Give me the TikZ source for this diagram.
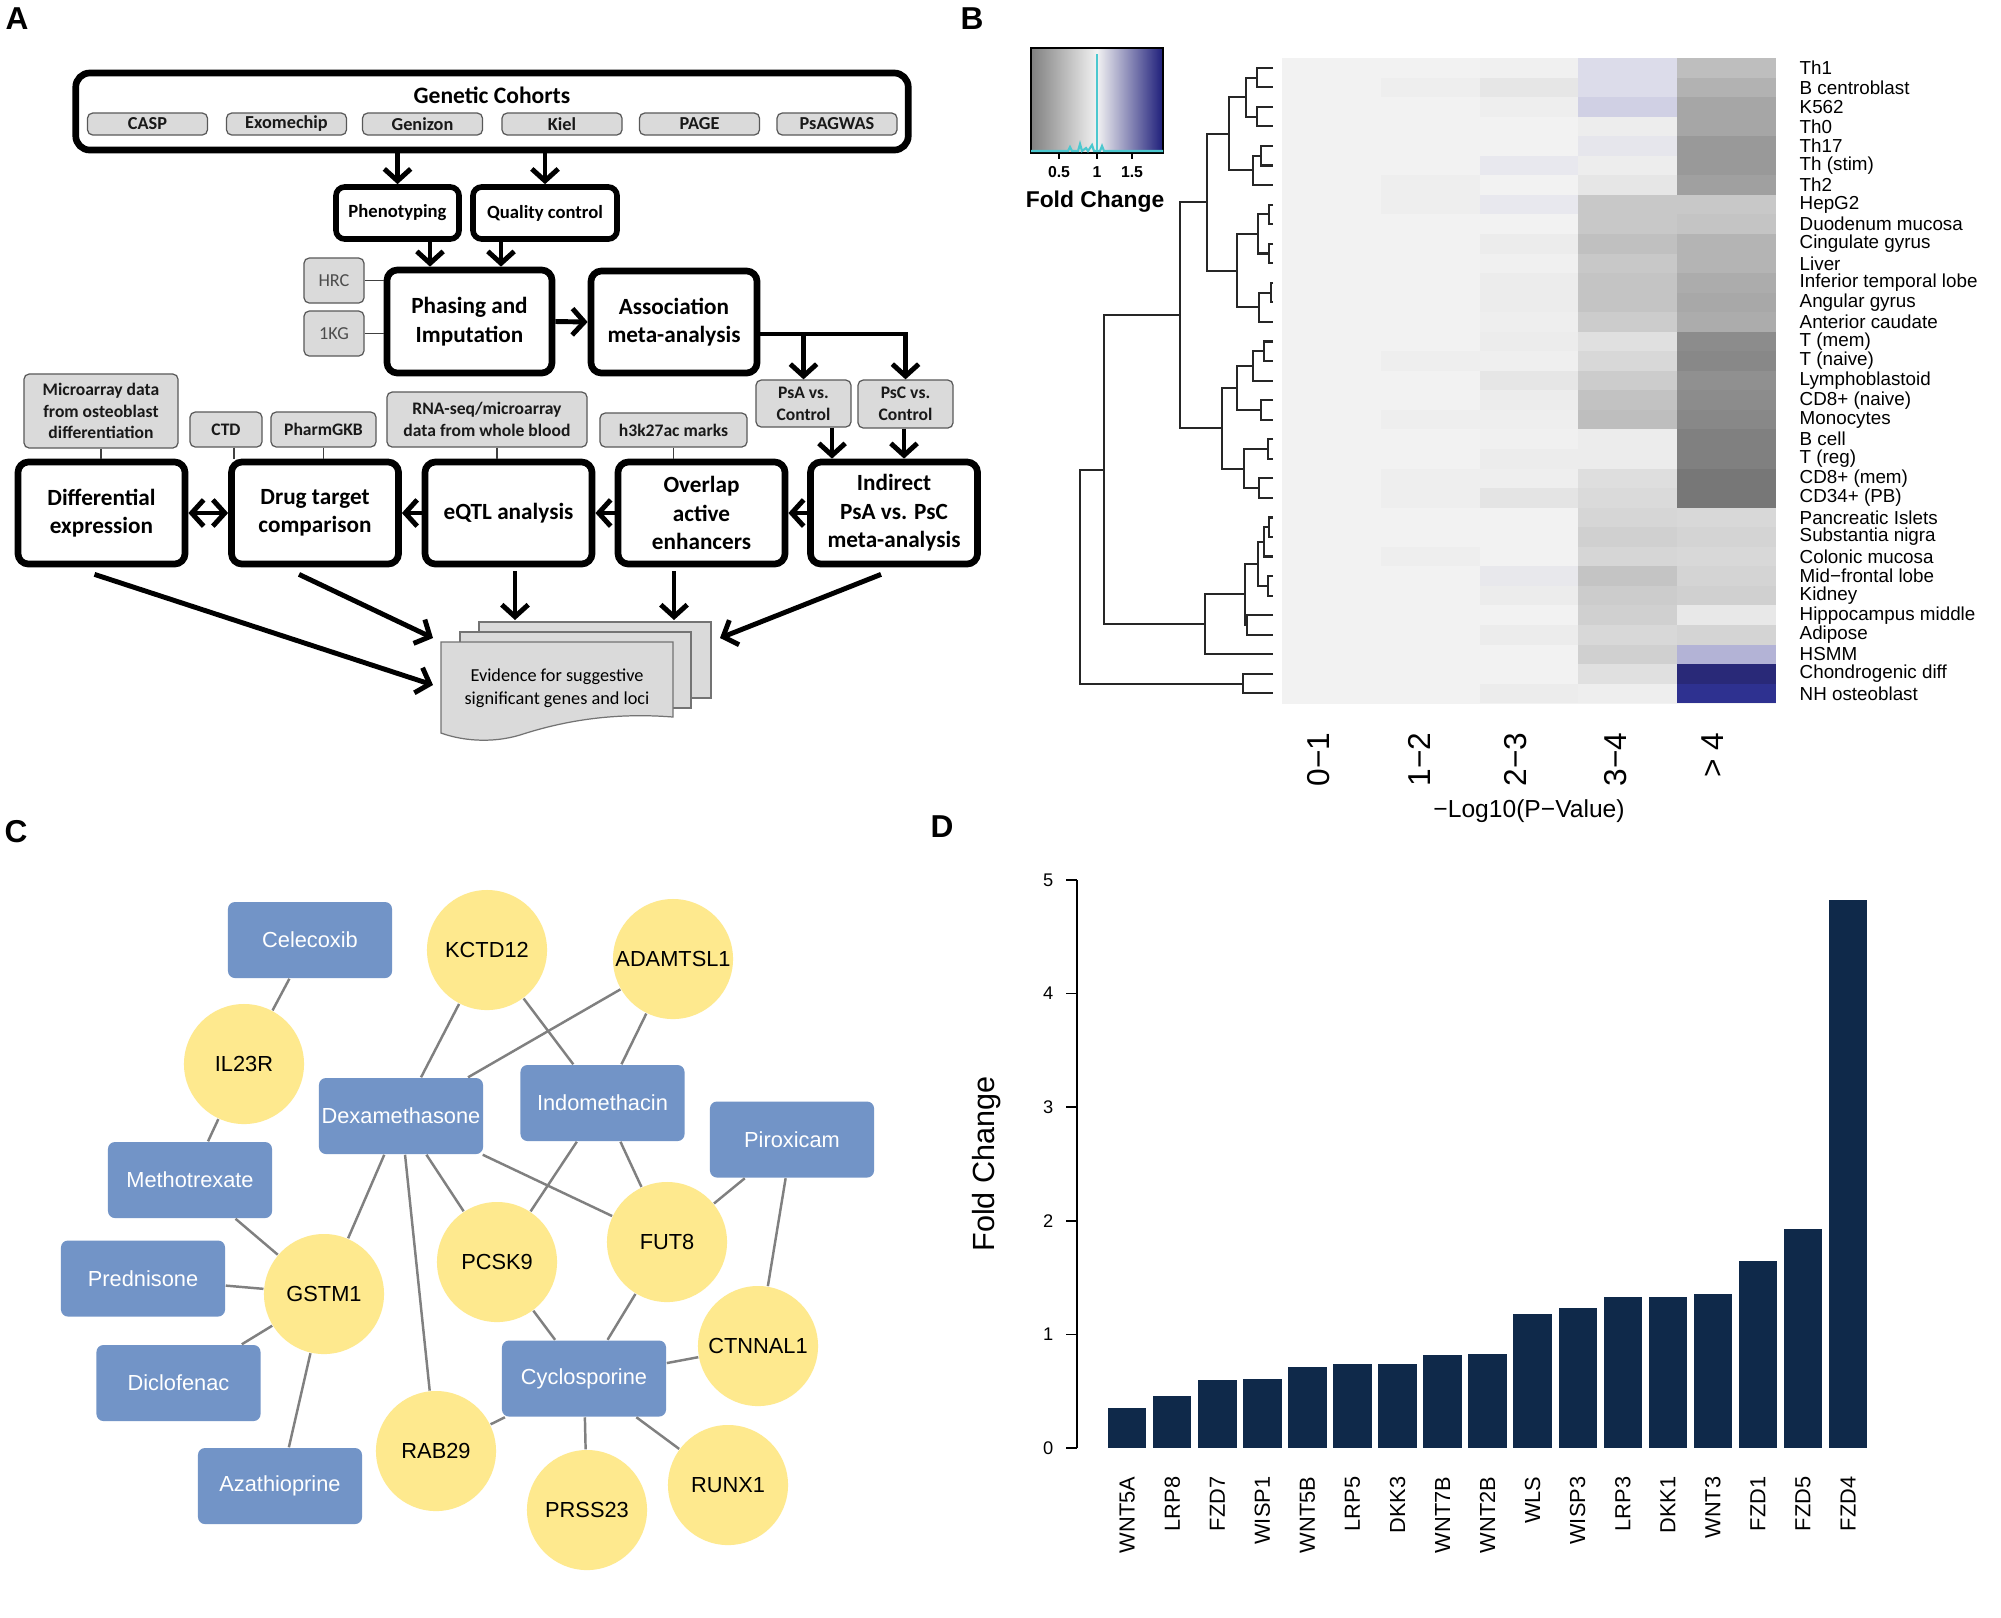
\documentclass[tikz,border=0pt]{standalone}
\usepackage{fontspec}
\setmainfont{Liberation Sans}
\newfontfamily\carlito{Carlito}
\usetikzlibrary{arrows.meta,calc}
\definecolor{drugblue}{HTML}{7294C7}
\definecolor{geneyellow}{HTML}{FEE98E}
\definecolor{edgegray}{HTML}{808080}
\definecolor{barnavy}{HTML}{0F294A}
\definecolor{boxgray}{HTML}{DADADA}
\definecolor{keycyan}{HTML}{4CC8CF}
\definecolor{keynavy}{HTML}{1E1E7A}
\definecolor{keygray}{HTML}{808080}
\definecolor{keywhite}{HTML}{F2F2F2}
\definecolor{heatbase}{HTML}{F2F2F2}
\newcommand\fsz[2]{\fontsize{#1}{#2}\selectfont}
\newcommand\dendro[5]{\draw[dend] (#2,#3) -- (#1,#3) -- (#1,#5) -- (#4,#5);}
\begin{document}
\begin{tikzpicture}[x=0.01cm,y=-0.01cm,
  panellab/.style={font=\bfseries\fsz{9}{10}, inner sep=0},
  mainbox/.style={draw, line width=1.9pt, rounded corners=3pt, align=center, inner sep=0pt,
    minimum width=1.67cm, minimum height=1.02cm, font=\carlito\bfseries\fsz{6.6}{8.1}},
  smallbox/.style={draw, line width=1.6pt, rounded corners=2.5pt, inner sep=0pt,
    minimum height=0.52cm, font=\carlito\bfseries\fsz{5.3}{6.4}},
  graybox/.style={draw=black!65, fill=boxgray, line width=0.35pt, rounded corners=1.5pt,
    inner sep=0pt, align=center, text=black!90, font=\carlito\bfseries\fsz{5}{6.2}},
  cohort/.style={graybox, minimum width=1.2cm, minimum height=0.22cm, font=\carlito\bfseries\fsz{5.2}{6}},
  arr/.style={line width=1.4pt, -{Straight Barb[length=3.4pt,width=7.5pt]}},
  dblarr/.style={line width=1.4pt, {Straight Barb[length=3.4pt,width=7.5pt]}-{Straight Barb[length=3.4pt,width=7.5pt]}},
  thinln/.style={line width=0.4pt, draw=black!75},
  docpage/.style={fill=boxgray, draw=black!55, line width=0.35pt},
  drug/.style={fill=drugblue, rounded corners=2pt, minimum width=1.64cm, minimum height=0.76cm,
    inner sep=0, text=white, font=\fsz{6.2}{7}},
  gene/.style={circle, fill=geneyellow, minimum size=1.2cm, inner sep=0, font=\fsz{6.2}{7}},
  edge/.style={draw=edgegray, line width=0.7pt},
  rowlab/.style={anchor=west, inner sep=0, font=\fsz{5.35}{6}},
  dend/.style={line width=0.6pt, draw=black!85},
]
\useasboundingbox[fill=white] (0,0) rectangle (2001,1617);

% ---------------- panel labels
\node[panellab] (labA) at (17,19) {A};
\node[panellab] (labB) at (972,19) {B};
\node[panellab] (labC) at (16,832) {C};
\node[panellab] (labD) at (942,827) {D};

% ================= PANEL A
\node[draw, line width=1.9pt, rounded corners=4pt, minimum width=8.32cm, minimum height=0.77cm] (gc) at (492,111.5) {};
\node[font=\carlito\bfseries\fsz{6.7}{8}, inner sep=0] (gctitle) at (492,95) {Genetic Cohorts};
\foreach \n/\x/\t in {casp/147.5/CASP, exo/286.5/Exomechip, gen/422.5/Genizon, kiel/562/Kiel, page/699.5/PAGE, psag/837/PsAGWAS}
  \node[cohort] (\n) at (\x,124) {\t};

\node[smallbox, minimum width=1.23cm] (pheno) at (397.5,213) {Phenotyping};
\node[smallbox, minimum width=1.44cm] (qc) at (545,213) {Quality control};
\draw[arr] (gc.south -| pheno.north) -- (pheno.north);
\draw[arr] (gc.south -| qc.north) -- (qc.north);

\node[mainbox, minimum width=1.65cm, minimum height=1.03cm] (phasing) at (469.5,321.5) {Phasing and\\Imputation};
\node[mainbox, minimum width=1.66cm] (assoc) at (674,322) {Association\\meta-analysis};
\coordinate (pa) at ($(pheno.south)+(32.5,0)$);
\coordinate (qa) at ($(qc.south)+(-44,0)$);
\draw[arr] (pa) -- (pa |- phasing.north);
\draw[arr] (qa) -- (qa |- phasing.north);

\node[graybox, minimum width=0.6cm, minimum height=0.45cm, text=black!70, font=\carlito\fsz{5.2}{6.2}] (hrc) at (334,280.5) {HRC};
\node[graybox, minimum width=0.6cm, minimum height=0.45cm, text=black!70, font=\carlito\fsz{5.2}{6.2}] (kg) at (334,333.5) {1KG};
\draw[thinln] (hrc.east) -- (hrc.east -| phasing.west);
\draw[thinln] (kg.east) -- (kg.east -| phasing.west);
\draw[arr] (phasing.east) -- (assoc.west);

\node[graybox, minimum width=0.95cm, minimum height=0.47cm] (psa) at (803.5,403.5) {PsA vs.\\Control};
\node[graybox, minimum width=0.95cm, minimum height=0.48cm] (psc) at (905.5,404) {PsC vs.\\Control};
\coordinate (ab) at ($(assoc.east)+(0,12)$);
\draw[arr] (ab) -| (psc.north);
\draw[arr] (ab -| psa.north) -- (psa.north);

\node[mainbox] (diff) at (101.5,513) {Differential\\expression};
\node[mainbox] (drugt) at (315,513) {Drug target\\comparison};
\node[mainbox] (eqtl) at (508.5,513) {eQTL analysis};
\node[mainbox] (overlap) at (701.5,513) {Overlap\\active\\enhancers};
\node[mainbox] (indirect) at (894,513) {Indirect\\PsA vs. PsC\\meta-analysis};

\coordinate (pa2) at ($(psa.south)+(28.5,0)$);
\coordinate (pc2) at ($(psc.south)+(-1.5,0)$);
\draw[arr] (pa2) -- (pa2 |- indirect.north);
\draw[arr] (pc2) -- (pc2 |- indirect.north);

\draw[arr] (indirect.west) -- (overlap.east);
\draw[arr] (overlap.west) -- (eqtl.east);
\draw[arr] (eqtl.west) -- (drugt.east);
\draw[dblarr] (diff.east) -- (drugt.west);

\node[graybox, minimum width=1.54cm, minimum height=0.74cm] (micro) at (101,411) {Microarray data\\from osteoblast\\differentiation};
\node[graybox, minimum width=0.72cm, minimum height=0.35cm] (ctd) at (226,429.5) {CTD};
\node[graybox, minimum width=1.05cm, minimum height=0.35cm] (pharm) at (323.5,429.5) {PharmGKB};
\node[graybox, minimum width=2.0cm, minimum height=0.55cm] (rna) at (487,419.5) {RNA-seq/microarray\\data from whole blood};
\node[graybox, minimum width=1.47cm, minimum height=0.34cm] (h3k) at (673.5,430) {h3k27ac marks};
\coordinate (ctdl) at ($(ctd.south)+(8,0)$);
\coordinate (rnal) at ($(rna.south)+(10,0)$);
\draw[thinln] (micro.south) -- (micro.south |- diff.north);
\draw[thinln] (ctdl) -- (ctdl |- drugt.north);
\draw[thinln] (pharm.south) -- (pharm.south |- drugt.north);
\draw[thinln] (rnal) -- (rnal |- eqtl.north);
\draw[thinln] (h3k.south) -- (h3k.south |- overlap.north);

% evidence document stack
\draw[docpage] (479,622) rectangle (711,698);
\draw[docpage] (460,632) rectangle (691,708);
\draw[docpage] (441,642) -- (673,642) -- (673,717) .. controls (610,712) and (560,722) .. (520,735)
   .. controls (490,744) and (460,740) .. (441,733) -- cycle;
\node[font=\carlito\fsz{5.2}{6.45}, align=center, inner sep=0] (evid) at (557,688) {Evidence for suggestive\\significant genes and loci};

\coordinate (t1) at (433,685);
\coordinate (t2) at (433,638);
\coordinate (t3) at (515,620);
\coordinate (t4) at (674,620);
\coordinate (t5) at (720,638);
\draw[arr] ($(diff.south)+(-7,7)$) -- (t1);
\draw[arr] ($(drugt.south)+(-16,7)$) -- (t2);
\draw[arr] ($(eqtl.south)+(6.5,4)$) -- (t3);
\draw[arr] ($(overlap.south)+(-27.5,4)$) -- (t4);
\draw[arr] ($(indirect.south)+(-13,7)$) -- (t5);

% ================= PANEL B
% colour key
\shade[left color=keygray, right color=keywhite] (1031,48) rectangle (1097,153);
\shade[left color=keywhite, right color=keynavy] (1097,48) rectangle (1163,153);
\draw[line width=0.4pt] (1031,48) rectangle (1163,153);
\draw[keycyan, line width=0.6pt] (1031,151) -- (1068,151) -- (1070,147) -- (1072,151) -- (1078,151)
   -- (1080,144) -- (1082,151) -- (1086,148) -- (1088,151) -- (1092,145) -- (1094,151) -- (1100,151)
   -- (1102,146) -- (1104,151) -- (1163,151);
\draw[keycyan, line width=0.7pt] (1097,54) -- (1097,152);
\foreach \x/\t in {1059/0.5, 1097/1, 1132/1.5} {
  \draw[line width=0.4pt] (\x,153) -- (\x,159);
  \node[font=\bfseries\fsz{4.5}{5}, inner sep=0] at (\x,172) {\t};
}
\node[font=\bfseries\fsz{6.5}{7}, inner sep=0] (fclab) at (1095,202) {Fold Change};

% heatmap
\fill[heatbase] (1282,58) rectangle (1776,703.2);
\foreach \r/\a/\b/\c/\d in {
 1/F2F2F2/F0F0F0/DCDCEA/BEBEBE, 2/EEEEEE/E6E6E6/DCDCEA/B2B2B2, 3/F2F2F2/EEEEEE/D0D0E4/A6A6A6,
 4/F2F2F2/F2F2F2/EDEDED/A6A6A6, 5/F2F2F2/F2F2F2/E6E6EC/999999, 6/F2F2F2/E8E8EE/EDEDED/999999,
 7/EEEEEE/F2F2F2/E6E6E6/A0A0A0, 8/EEEEEE/E8E8EE/C8C8C8/C8C8C8, 9/F2F2F2/F2F2F2/C8C8C8/C4C4C4,
 10/F2F2F2/ECECEC/C0C0C0/B4B4B4, 11/F2F2F2/F0F0F0/C8C8C8/B4B4B4, 12/F2F2F2/ECECEC/C4C4C4/ACACAC,
 13/F2F2F2/ECECEC/C4C4C4/A8A8A8, 14/F2F2F2/EEEEEE/CCCCCC/ACACAC, 15/F2F2F2/ECECEC/E0E0E0/8C8C8C,
 16/EEEEEE/EFEFEF/D8D8D8/888888, 17/F2F2F2/E6E6E6/CCCCCC/909090, 18/F2F2F2/ECECEC/C2C2C2/8C8C8C,
 19/EEEEEE/EEEEEE/BEBEBE/888888, 20/F2F2F2/F0F0F0/ECECEC/808080, 21/F2F2F2/ECECEC/ECECEC/808080,
 22/EEEEEE/EEEEEE/DEDEDE/777777, 23/EEEEEE/E4E4E4/DADADA/777777, 24/F2F2F2/F2F2F2/D6D6D6/D8D8D8,
 25/F2F2F2/F2F2F2/D0D0D0/D4D4D4, 26/EEEEEE/F2F2F2/D6D6D6/D8D8D8, 27/F2F2F2/E8E8EC/C4C4C4/D4D4D4,
 28/F2F2F2/ECECEC/CCCCCC/D0D0D0, 29/F2F2F2/F2F2F2/D0D0D0/E8E8E8, 30/F2F2F2/ECECEC/D8D8D8/D4D4D4,
 31/F2F2F2/F2F2F2/D0D0D0/B3B3D6, 32/F2F2F2/F2F2F2/E0E0E0/292978, 33/F2F2F2/ECECEC/EEEEEE/2E3190} {
  \edef\tmp{\noexpand\definecolor{hca}{HTML}{\a}\noexpand\definecolor{hcb}{HTML}{\b}\noexpand\definecolor{hcc}{HTML}{\c}\noexpand\definecolor{hcd}{HTML}{\d}}\tmp
  \fill[hca] (1380.8,{58+(\r-1)*19.55}) rectangle (1479.9,{58.3+\r*19.55});
  \fill[hcb] (1479.6,{58+(\r-1)*19.55}) rectangle (1578.7,{58.3+\r*19.55});
  \fill[hcc] (1578.4,{58+(\r-1)*19.55}) rectangle (1677.5,{58.3+\r*19.55});
  \fill[hcd] (1677.2,{58+(\r-1)*19.55}) rectangle (1776,{58.3+\r*19.55});
}
\fill[heatbase] (1282,703.2) rectangle (1776,704);

\foreach \r/\t in {1/Th1, 2/B centroblast, 3/K562, 4/Th0, 5/Th17, 6/Th (stim), 7/Th2, 8/HepG2,
 9/Duodenum mucosa, 10/Cingulate gyrus, 11/Liver, 12/Inferior temporal lobe, 13/Angular gyrus,
 14/Anterior caudate, 15/T (mem), 16/T (naive), 17/Lymphoblastoid, 18/CD8+ (naive), 19/Monocytes,
 20/B cell, 21/T (reg), 22/CD8+ (mem), 23/CD34+ (PB), 24/Pancreatic Islets, 25/Substantia nigra,
 26/Colonic mucosa, 27/Mid−frontal lobe, 28/Kidney, 29/Hippocampus middle, 30/Adipose, 31/HSMM,
 32/Chondrogenic diff, 33/NH osteoblast}
  \node[rowlab] (rl\r) at (1799,{48.225+19.55*\r}) {\t};

\foreach \x/\t in {1319/0−1, 1419/1−2, 1516/2−3, 1616/3−4, 1713/> 4}
  \node[rotate=90, anchor=east, inner sep=0, font=\fsz{9}{10}] at (\x,732) {\t};
\node[font=\fsz{7}{8}, inner sep=0] (xlab) at (1529,811) {−Log10(P−Value)};

% dendrogram
\dendro{1257}{1273}{67.78}{1273}{87.33}
\dendro{1257}{1273}{106.88}{1273}{126.43}
\dendro{1246}{1257}{77.55}{1257}{116.65}
\dendro{1261}{1273}{145.98}{1273}{165.53}
\dendro{1253}{1261}{155.75}{1273}{185.08}
\dendro{1229}{1246}{97.1}{1253}{170.4}
\dendro{1269}{1273}{204.63}{1273}{224.18}
\dendro{1269}{1273}{243.73}{1273}{263.28}
\dendro{1258}{1269}{214.4}{1269}{253.5}
\dendro{1271}{1273}{282.83}{1273}{302.38}
\dendro{1259}{1271}{292.6}{1273}{321.93}
\dendro{1237}{1258}{233.95}{1259}{307.27}
\dendro{1207}{1229}{133.75}{1237}{270.6}
\dendro{1264}{1273}{341.48}{1273}{361.03}
\dendro{1253}{1264}{351.25}{1273}{380.58}
\dendro{1261}{1273}{400.13}{1273}{419.68}
\dendro{1237}{1253}{365.9}{1261}{409.9}
\dendro{1268}{1273}{439.23}{1273}{458.78}
\dendro{1259}{1273}{478.33}{1273}{497.88}
\dendro{1244}{1268}{449}{1259}{488.1}
\dendro{1222}{1237}{387.9}{1244}{468.55}
\dendro{1180}{1207}{202.2}{1222}{428.2}
\dendro{1269}{1273}{517.43}{1273}{536.98}
\dendro{1264}{1269}{527.2}{1273}{556.53}
\dendro{1268}{1273}{576.08}{1273}{595.63}
\dendro{1258}{1264}{541.9}{1268}{585.85}
\dendro{1247}{1273}{615.18}{1273}{634.73}
\dendro{1245}{1258}{563.9}{1247}{624.95}
\dendro{1205}{1245}{594.4}{1273}{654.28}
\dendro{1104}{1180}{315.2}{1205}{624.3}
\dendro{1243}{1273}{673.83}{1273}{693.38}
\dendro{1080}{1104}{469.75}{1243}{683.6}

% ================= PANEL C
\node[drug] (celecoxib) at (310,940) {Celecoxib};
\node[drug] (dexa) at (401,1116) {Dexamethasone};
\node[drug] (indo) at (602.5,1103) {Indomethacin};
\node[drug] (pirox) at (792,1139.5) {Piroxicam};
\node[drug] (metho) at (190,1180) {Methotrexate};
\node[drug] (pred) at (143,1278.5) {Prednisone};
\node[drug] (diclo) at (178.5,1383) {Diclofenac};
\node[drug] (cyclo) at (584,1378.5) {Cyclosporine};
\node[drug] (aza) at (280,1486) {Azathioprine};
\node[gene] (kctd) at (487,950) {KCTD12};
\node[gene] (adam) at (673,959) {ADAMTSL1};
\node[gene] (il23r) at (244,1064) {IL23R};
\node[gene] (gstm) at (324,1294) {GSTM1};
\node[gene] (pcsk) at (497,1262) {PCSK9};
\node[gene] (fut8) at (667,1242) {FUT8};
\node[gene] (ctnn) at (758,1346) {CTNNAL1};
\node[gene] (rab) at (436,1451) {RAB29};
\node[gene] (prss) at (587,1510) {PRSS23};
\node[gene] (runx) at (728,1485) {RUNX1};
\foreach \a/\b in {celecoxib/il23r, il23r/metho, metho/gstm, pred/gstm, diclo/gstm, aza/gstm,
  gstm/dexa, kctd/dexa, kctd/indo, adam/dexa, adam/indo, dexa/pcsk, dexa/fut8, dexa/rab,
  indo/pcsk, indo/fut8, pirox/fut8, pirox/ctnn, pcsk/cyclo, fut8/cyclo, ctnn/cyclo, rab/cyclo,
  prss/cyclo, runx/cyclo}
  \draw[edge] (\a) -- (\b);

% ================= PANEL D
\draw[line width=0.45pt] (1077,880) -- (1077,1448);
\foreach \v in {0,...,5} {
  \draw[line width=0.45pt] (1066,{1448-\v*113.6}) -- (1077,{1448-\v*113.6});
  \node[anchor=east, inner sep=0, font=\fsz{5.2}{6}] at (1054,{1448-\v*113.6}) {\v};
}
\node[rotate=90, font=\fsz{8.7}{10}, inner sep=0] (ylab) at (987,1164) {Fold Change};
\foreach \i/\v/\t in {0/0.35/WNT5A, 1/0.46/LRP8, 2/0.60/FZD7, 3/0.61/WISP1, 4/0.71/WNT5B,
  5/0.74/LRP5, 6/0.74/DKK3, 7/0.82/WNT7B, 8/0.83/WNT2B, 9/1.18/WLS, 10/1.23/WISP3, 11/1.33/LRP3,
  12/1.33/DKK1, 13/1.36/WNT3, 14/1.65/FZD1, 15/1.93/FZD5, 16/4.82/FZD4} {
  \fill[barnavy] ({1108+\i*45.05},1448) rectangle ({1146.4+\i*45.05},{1448-\v*113.6});
  \node[rotate=90, anchor=east, inner sep=0, font=\fsz{6.2}{7}] at ({1127.2+\i*45.05},1476) {\t};
}
\end{tikzpicture}
\end{document}
